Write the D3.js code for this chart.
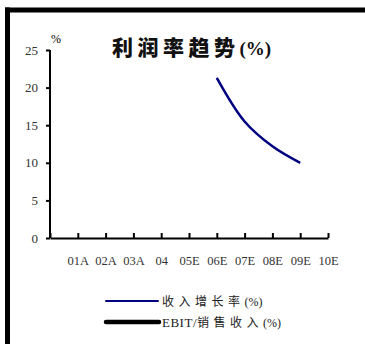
<!DOCTYPE html>
<html>
<head>
<meta charset="utf-8">
<script src="https://cdn.jsdelivr.net/npm/d3@7"></script>
<style>
  body { margin: 0; background: #fff; }
  svg { display: block; }
</style>
</head>
<body>
<div id="chart"></div>
<script>
"use strict";

// chart data
var categories = ["01A", "02A", "03A", "04", "05E", "06E", "07E", "08E", "09E", "10E"];
var growth = [null, null, null, null, null, 21.3, 15.5, 12.2, 10.0, null];
var ebitMargin = [null, null, null, null, null, null, null, null, null, null];
var yTicks = [0, 5, 10, 15, 20, 25];
var legendNames = ["收入增长率", "EBIT/销售收入"];

var W = 365, H = 344;
var serif = "Liberation Serif";
var cjk = "Noto Sans CJK SC";

var svg = d3.select("#chart").append("svg")
    .attr("width", W)
    .attr("height", H);

// frame (left and top bars)
svg.append("rect").attr("x", 5).attr("y", 7.5).attr("width", W - 5).attr("height", 5).attr("fill", "#000");
svg.append("rect").attr("x", 5).attr("y", 7.5).attr("width", 5).attr("height", H - 7.5).attr("fill", "#000");

// scales
var x = d3.scaleLinear().domain([0, categories.length]).range([50, 328]);
var y = d3.scaleLinear().domain([0, 25]).range([238, 50]);

// y axis
var yAxis = svg.append("g")
    .attr("transform", "translate(50,0)")
    .call(d3.axisLeft(y).tickValues(yTicks).tickSize(4).tickPadding(8));
yAxis.select(".domain").attr("stroke-width", 2).attr("d", "M0," + y(25) + "V" + y(0));
yAxis.selectAll(".tick line").attr("stroke-width", 2);
yAxis.selectAll("text")
    .attr("font-family", serif)
    .attr("font-size", 13)
    .attr("fill", "#333");

// x axis, ticks pointing up
var xAxis = svg.append("g")
    .attr("transform", "translate(0," + y(0) + ")")
    .call(d3.axisBottom(x)
        .tickValues(d3.range(0, categories.length + 1))
        .tickSize(-5)
        .tickSizeOuter(0)
        .tickFormat(function(i) { return i === 0 ? "" : categories[i - 1]; })
        .tickPadding(18));
xAxis.select(".domain").attr("stroke-width", 2);
xAxis.selectAll(".tick line").attr("stroke-width", 2);
xAxis.selectAll("text")
    .attr("font-family", serif)
    .attr("font-size", 12.5)
    .attr("fill", "#333");

// unit
svg.append("text")
    .attr("font-family", serif)
    .attr("font-size", 12)
    .attr("x", 51).attr("y", 43)
    .text("%");

// title
var title = svg.append("text")
    .attr("x", 112).attr("y", 55)
    .attr("fill", "#111");
title.append("tspan")
    .attr("font-family", cjk)
    .attr("font-size", 21)
    .attr("font-weight", 900)
    .style("letter-spacing", "4.5px")
    .text("利润率趋势");
title.append("tspan")
    .attr("font-family", serif)
    .attr("font-weight", "bold")
    .attr("font-size", 19)
    .text("(%)");

// lines
var line = d3.line()
    .defined(function(d) { return d != null; })
    .x(function(d, i) { return x(i + 1); })
    .y(function(d) { return y(d); })
    .curve(d3.curveCatmullRom.alpha(0.5));

svg.append("path")
    .datum(growth)
    .attr("fill", "none")
    .attr("stroke", "#000080")
    .attr("stroke-width", 2.5)
    .attr("d", line);

svg.append("path")
    .datum(ebitMargin)
    .attr("fill", "none")
    .attr("stroke", "#000")
    .attr("stroke-width", 4.5)
    .attr("d", line);

// legend
var legendStyles = [
    {color: "#000080", width: 2, y: 301, x2: 158},
    {color: "#000", width: 4.5, y: 322, x2: 159}
];
legendNames.forEach(function(name, k) {
    var s = legendStyles[k];
    svg.append("line")
        .attr("x1", 106).attr("x2", s.x2)
        .attr("y1", s.y).attr("y2", s.y)
        .attr("stroke", s.color)
        .attr("stroke-width", s.width)
        .attr("stroke-linecap", "round");
    var t = svg.append("text")
        .attr("x", 162).attr("y", s.y + 5)
        .attr("fill", "#222");
    if (k === 1) {
        t.append("tspan").attr("font-family", serif).attr("font-size", 13)
            .style("letter-spacing", "0.5px").text("EBIT/");
        name = "销售收入";
    }
    t.append("tspan").attr("font-family", cjk).attr("font-size", 12)
        .style("letter-spacing", "4.5px").text(name);
    t.append("tspan").attr("font-family", serif).attr("font-size", 12).text("(%)");
});
</script>
</body>
</html>
